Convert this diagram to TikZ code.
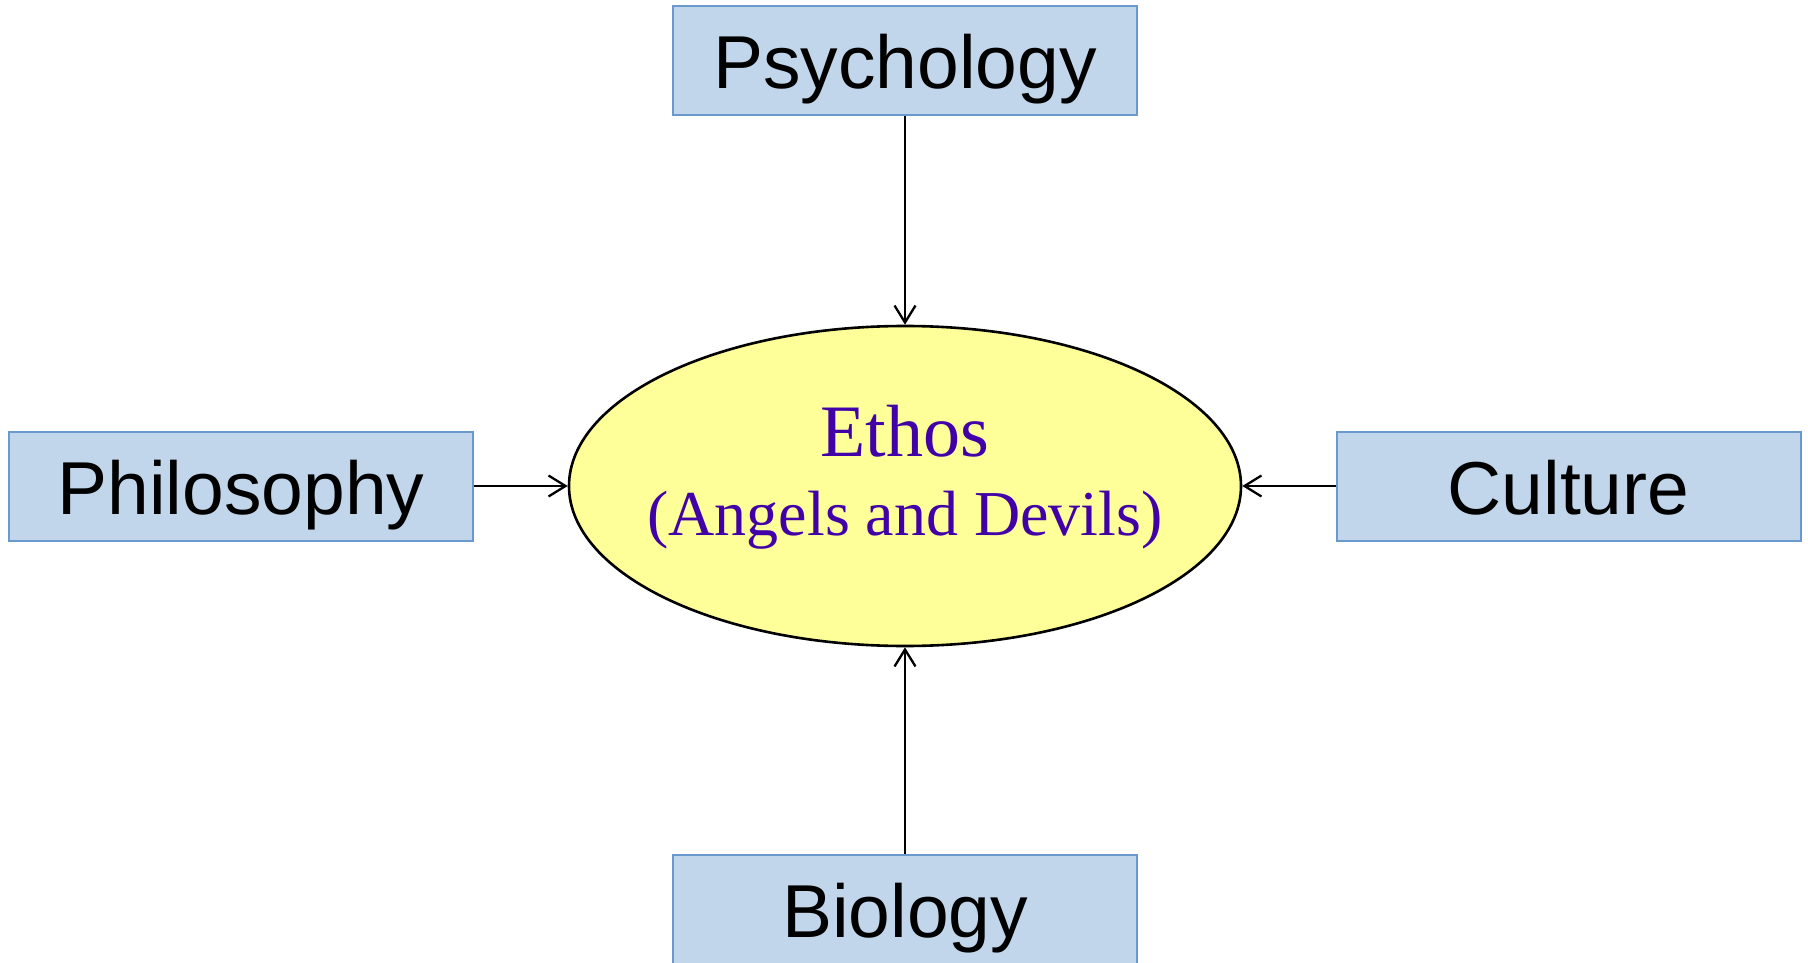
\documentclass[tikz,border=0pt]{standalone}
\usepackage{fontspec}
\setmainfont{Liberation Sans}
\newfontfamily\serifethos{Liberation Serif}
\usetikzlibrary{arrows.meta,shapes.geometric}
\definecolor{boxfill}{RGB}{193,214,234}
\definecolor{boxborder}{RGB}{106,153,205}
\definecolor{ellfill}{RGB}{255,255,153}
\definecolor{ethoscol}{RGB}{66,0,168}
\tikzset{
  fieldbox/.style={draw=boxborder, fill=boxfill, line width=2pt, rectangle,
    minimum width=464pt, minimum height=109pt, inner sep=0pt,
    text height=76pt, text depth=20pt,
    font=\fontsize{75}{80}\selectfont},
  ethosshape/.style={draw=black, fill=ellfill, line width=2.6pt, ellipse,
    minimum width=672pt, minimum height=320pt, inner sep=0pt},
  feed/.style={draw=black, line width=2.3pt, -{Straight Barb[length=17pt,width=21pt,line width=2.3pt]}}
}
\begin{document}
\begin{tikzpicture}[x=1pt,y=-1pt]
\useasboundingbox (0,0) rectangle (1808,963);
\node[ethosshape] (ethos) at (905,486) {};
\node[anchor=base, text=ethoscol, font=\serifethos\fontsize{74}{76}\selectfont, inner sep=0pt] (ethostitle) at (905,456) {Ethos};
\node[anchor=base, text=ethoscol, font=\serifethos\fontsize{64}{66}\selectfont, inner sep=0pt] (ethossub) at (905,535) {(Angels and Devils)};
\node[fieldbox] (psych) at (905,61) {Psychology};
\node[fieldbox] (philo) at (241,486) {Philosophy};
\node[fieldbox] (cult) at (1568.5,486) {Culture};
\node[fieldbox] (bio) at (905,909) {Biology};
\draw[feed] (psych.south) -- (ethos.north);
\draw[feed] (philo.east) -- (ethos.west);
\draw[feed] (cult.west) -- (ethos.east);
\draw[feed] (bio.north) -- (ethos.south);
\end{tikzpicture}
\end{document}
